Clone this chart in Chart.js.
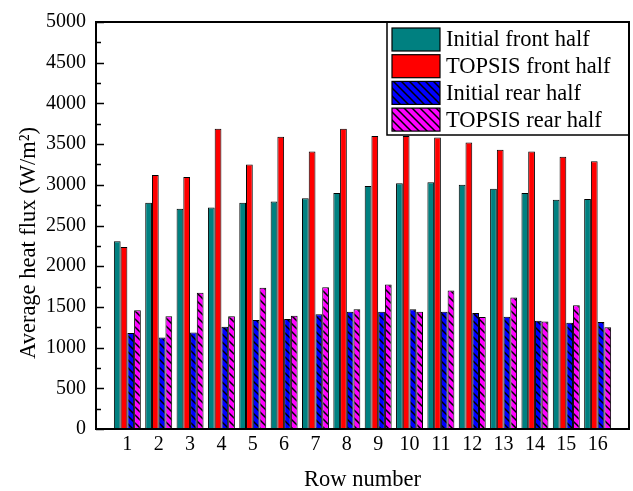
<!DOCTYPE html>
<html>
<head>
<meta charset="utf-8">
<script src="https://cdn.jsdelivr.net/npm/chart.js@4.4.0/dist/chart.umd.min.js"></script>
<style>
  html, body { margin: 0; padding: 0; background: #fff; }
  #wrap { width: 633px; height: 491px; }
</style>
</head>
<body>
<div id="wrap"><canvas id="heatChart" width="633" height="491"></canvas></div>
<script>
const rows = [1, 2, 3, 4, 5, 6, 7, 8, 9, 10, 11, 12, 13, 14, 15, 16];
const initialFront = [2305, 2780, 2705, 2720, 2780, 2795, 2835, 2900, 2985, 3020, 3030, 3000, 2950, 2900, 2815, 2825];
const topsisFront = [2235, 3120, 3095, 3690, 3250, 3590, 3410, 3690, 3600, 3600, 3580, 3520, 3430, 3410, 3345, 3290];
const initialRear = [1180, 1125, 1185, 1255, 1340, 1350, 1410, 1440, 1440, 1470, 1440, 1425, 1380, 1330, 1305, 1315];
const topsisRear = [1460, 1385, 1675, 1385, 1735, 1390, 1740, 1470, 1775, 1440, 1700, 1375, 1615, 1320, 1520, 1250];
const seriesNames = ["Initial front half", "TOPSIS front half", "Initial rear half", "TOPSIS rear half"];

const FONT = "'Liberation Serif', 'Times New Roman', serif";

// diagonal "\" hatch over a solid colour
const makeHatch = (color) => {
  const size = 8;
  const c = document.createElement("canvas");
  c.width = size;
  c.height = size;
  const g = c.getContext("2d");
  g.fillStyle = color;
  g.fillRect(0, 0, size, size);
  g.strokeStyle = "#000";
  g.lineWidth = 1.5;
  g.beginPath();
  g.moveTo(-2, -2); g.lineTo(size + 2, size + 2);
  g.moveTo(-2, size - 2); g.lineTo(2, size + 2);
  g.moveTo(size - 2, -2); g.lineTo(size + 2, 2);
  g.stroke();
  return g.createPattern(c, "repeat");
};

const toPoints = (vals) => rows.map((r, i) => ({ x: r, y: vals[i] }));

const framePlugin = {
  id: "frame",
  afterDraw(chart) {
    const { ctx, chartArea: a, scales: { y } } = chart;
    ctx.save();

    // inward ticks on the left axis
    ctx.strokeStyle = "#000";
    ctx.lineWidth = 1.5;
    for (let v = y.min; v <= y.max; v += 250) {
      const py = Math.round(y.getPixelForValue(v)) + 0.5;
      const len = v % 500 === 0 ? 8 : 5;
      ctx.beginPath();
      ctx.moveTo(a.left, py);
      ctx.lineTo(a.left + len, py);
      ctx.stroke();
    }

    // legend box
    const lx = 387, ly = a.top, lw = a.right - 387, lh = 113;
    ctx.fillStyle = "#fff";
    ctx.fillRect(lx, ly, lw, lh);
    ctx.lineWidth = 1.5;
    ctx.strokeRect(lx, ly, lw, lh);
    ctx.font = `22.5px ${FONT}`;
    ctx.textBaseline = "middle";
    ctx.textAlign = "left";
    chart.data.datasets.forEach((ds, i) => {
      const cy = ly + 17.5 + i * 26.7;
      ctx.fillStyle = ds.backgroundColor;
      ctx.fillRect(392, cy - 11.5, 48, 23);
      ctx.lineWidth = 1.2;
      ctx.strokeRect(392, cy - 11.5, 48, 23);
      ctx.fillStyle = "#000";
      ctx.fillText(ds.label, 446, cy + 1);
    });

    // frame
    ctx.lineWidth = 2;
    ctx.strokeStyle = "#000";
    ctx.strokeRect(a.left, a.top, a.right - a.left, a.bottom - a.top);

    // y title
    ctx.translate(29, 243);
    ctx.rotate(-Math.PI / 2);
    ctx.textAlign = "center";
    ctx.textBaseline = "middle";
    ctx.fillStyle = "#000";
    ctx.font = `22.5px ${FONT}`;
    ctx.fillText("Average heat flux (W/m²)", 0, 0);
    ctx.restore();
  },
};

const barStyle = { borderColor: "#000", borderWidth: 1, categoryPercentage: 0.86, barPercentage: 1 };

new Chart(document.getElementById("heatChart"), {
  type: "bar",
  data: {
    datasets: [
      { label: seriesNames[0], data: toPoints(initialFront), backgroundColor: "#008080", ...barStyle },
      { label: seriesNames[1], data: toPoints(topsisFront), backgroundColor: "#ff0000", ...barStyle },
      { label: seriesNames[2], data: toPoints(initialRear), backgroundColor: makeHatch("#0000ff"), ...barStyle },
      { label: seriesNames[3], data: toPoints(topsisRear), backgroundColor: makeHatch("#ff00ff"), ...barStyle },
    ],
  },
  options: {
    responsive: false,
    animation: false,
    layout: { padding: { top: 14, right: 2, left: 0, bottom: 0 } },
    plugins: { legend: { display: false }, tooltip: { enabled: false } },
    scales: {
      x: {
        type: "linear",
        min: 0,
        max: 17,
        offset: false,
        grid: { display: false, drawTicks: false },
        border: { display: false },
        ticks: {
          stepSize: 1,
          autoSkip: false,
          maxRotation: 0,
          padding: 4,
          color: "#000",
          font: { family: FONT, size: 20 },
          callback: (v) => (v >= 1 && v <= 16 ? String(v) : ""),
        },
        title: {
          display: true,
          text: "Row number",
          color: "#000",
          font: { family: FONT, size: 22.5, lineHeight: 1 },
          padding: { top: 0, bottom: 0 },
        },
        afterFit: (s) => { s.height = 62; },
      },
      y: {
        min: 0,
        max: 5000,
        grid: { display: false, drawTicks: false },
        border: { display: false },
        ticks: {
          stepSize: 500,
          padding: 10,
          color: "#000",
          font: { family: FONT, size: 20 },
          callback: (v) => String(v),
        },
        afterFit: (s) => { s.width = 96; },
      },
    },
  },
  plugins: [framePlugin],
});
</script>
</body>
</html>
